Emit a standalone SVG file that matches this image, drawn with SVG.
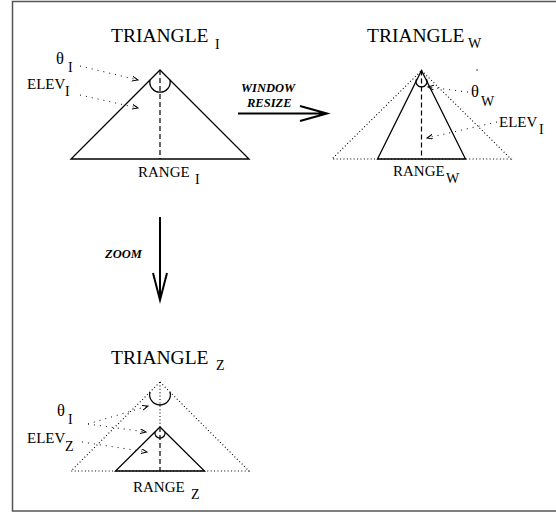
<svg xmlns="http://www.w3.org/2000/svg" width="556" height="517" viewBox="0 0 556 517">
<defs>
<marker id="ah" markerWidth="8" markerHeight="6" refX="6" refY="2.5" orient="auto" markerUnits="userSpaceOnUse">
<path d="M0,0 L6,2.5 L0,5" fill="none" stroke="#000" stroke-width="1"/>
</marker>
</defs>
<style>
text{font-family:"Liberation Serif","Times New Roman",serif;fill:#000}
.t{font-size:19.5px}
.s{font-size:14px}
.l{font-size:15px}
.th{font-size:16.5px}
.b{font-size:12.5px;font-weight:bold;font-style:italic}
.solid{fill:none;stroke:#000;stroke-width:1.3}
.dot{fill:none;stroke:#000;stroke-width:1.1;stroke-dasharray:1 2.4}
.dash{fill:none;stroke:#000;stroke-width:1.2;stroke-dasharray:5 3}
.ann{fill:none;stroke:#000;stroke-width:1;stroke-dasharray:1 5;marker-end:url(#ah)}
.big{fill:none;stroke:#000;stroke-width:2}
</style>
<rect x="12.5" y="1.5" width="560" height="509.5" fill="#fff" stroke="#555" stroke-width="1.5"/>

<g id="triangle-i">
<text class="t" x="111" y="42">TRIANGLE</text><text class="s" x="215" y="49">I</text>
<path class="solid" d="M160,70 L249,159 L71,159 Z"/>
<path class="dash" d="M160,70 L160,159"/>
<path class="solid" d="M150,80 A10.2,10.2 0 1 0 170,80"/>
<text class="th" x="56" y="64">θ</text><text class="s" x="68" y="72">I</text>
<text class="l" x="27" y="89">ELEV</text><text class="s" x="65" y="96">I</text>
<text class="l" x="138" y="177">RANGE</text><text class="s" x="195" y="184">I</text>
</g>

<g id="triangle-w">
<text class="t" x="367" y="42">TRIANGLE</text><text class="s" x="468" y="48">W</text>
<path class="dot" d="M421.5,70.5 L511,159 L332,159 Z"/>
<path class="solid" d="M421.5,70.5 L465.5,159 L377.5,159 Z"/>
<path class="dash" d="M421.5,70.5 L421.5,159"/>
<path class="solid" d="M416.5,79 A5.56,5.56 0 1 0 426.5,79"/>
<circle cx="477" cy="70" r="0.7" fill="#000"/>
<text class="th" x="471" y="97">θ</text><text class="s" x="481" y="106">W</text>
<text class="l" x="499" y="127">ELEV</text><text class="s" x="539" y="134">I</text>
<text class="l" x="393" y="176">RANGE</text><text class="s" x="446" y="183">W</text>
</g>

<g id="triangle-z">
<text class="t" x="111" y="364">TRIANGLE</text><text class="s" x="216" y="370">Z</text>
<path class="dot" d="M160,382 L249,471 L71,471 Z"/>
<path class="dot" d="M160,382 L160,427"/>
<path class="solid" d="M160,427 L204.5,471 L115.5,471 Z"/>
<path class="dash" d="M160,427 L160,471"/>
<path class="solid" d="M150,392 A10.35,10.35 0 1 0 170,392"/>
<path class="solid" d="M155,432 A5.1,5.1 0 1 0 165,432"/>
<text class="th" x="57" y="416">θ</text><text class="s" x="68" y="424">I</text>
<text class="l" x="27" y="443">ELEV</text><text class="s" x="65" y="451">Z</text>
<text class="l" x="133" y="492">RANGE</text><text class="s" x="191" y="499">Z</text>
</g>

<g id="window-resize">
<text class="b" x="241" y="92">WINDOW</text>
<text class="b" x="247" y="107">RESIZE</text>
</g>
<g id="zoom">
<text class="b" x="105" y="258">ZOOM</text>
</g>

<g id="connectors">
<path class="ann" d="M80,66 L138,80"/>
<path class="ann" d="M80,95 L138,108"/>
<path class="ann" d="M468,92 L428,87"/>
<path class="ann" d="M497,122 L427,138"/>
<path class="ann" d="M88,424 L148,406"/>
<path class="ann" d="M88,424 L146,432"/>
<path class="ann" d="M82,442 L147,452"/>
<path class="big" d="M238,113.5 L326,113.5 M300,106 L327,113.5 L300,121"/>
<path class="big" d="M160,217 L160,299 M153,273 L160,300 L167,273"/>
</g>
</svg>
